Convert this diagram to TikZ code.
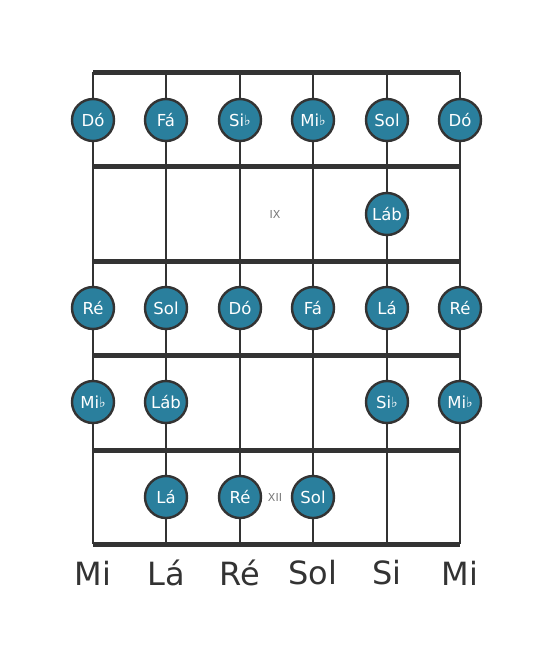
\documentclass[tikz,border=0pt]{standalone}
\usepackage{fontspec}
\setmainfont{DejaVu Sans}
\definecolor{notefill}{RGB}{42,127,157}
\definecolor{darkline}{RGB}{51,51,51}
\definecolor{markgray}{RGB}{120,120,120}
\tikzset{
  note/.style={circle, draw=darkline, line width=2.4pt, fill=notefill, text=white,
    minimum size=42pt, inner sep=0pt, font=\fontsize{16.5}{16.5}\selectfont},
  stringline/.style={darkline, line width=2.6pt},
  fretline/.style={darkline, line width=5pt},
  tuning/.style={text=darkline, font=\fontsize{32}{32}\selectfont},
  fretmark/.style={text=markgray, font=\fontsize{11}{11}\selectfont}
}
\newcommand{\fl}{\raisebox{0.1ex}{\fontsize{14}{14}\selectfont ♭}}
\begin{document}
\begin{tikzpicture}[x=1pt, y=-1pt]
    \useasboundingbox (0,0) rectangle (553,656);
    % Strings
    \foreach \s/\x in {1/93, 2/166, 3/240, 4/313, 5/387, 6/460} {
        \coordinate (top\s) at (\x,72);
        \coordinate (bot\s) at (\x,544);
        \draw[stringline] (top\s) -- (bot\s);
    }
    % Frets
    \foreach \f/\y in {0/72, 1/166, 2/261, 3/355, 4/450, 5/544} {
        \draw[fretline] (93,\y) -- (460,\y);
    }
    % Fret marks
    \node[fretmark] (ix) at (275,214) {IX};
    \node[fretmark] (xii) at (275,497) {XII};
    
    % Notes
    \node[note] (a1) at (93,120) {Dó};
    \node[note] (a2) at (166,120) {Fá};
    \node[note] (a3) at (240,120) {Si\fl};
    \node[note] (a4) at (313,120) {Mi\fl};
    \node[note] (a5) at (387,120) {Sol};
    \node[note] (a6) at (460,120) {Dó};
    \node[note] (b5) at (387,214) {Láb};
    \node[note] (c1) at (93,308) {Ré};
    \node[note] (c2) at (166,308) {Sol};
    \node[note] (c3) at (240,308) {Dó};
    \node[note] (c4) at (313,308) {Fá};
    \node[note] (c5) at (387,308) {Lá};
    \node[note] (c6) at (460,308) {Ré};
    \node[note] (d1) at (93,402) {Mi\fl};
    \node[note] (d2) at (166,402) {Láb};
    \node[note] (d5) at (387,402) {Si\fl};
    \node[note] (d6) at (460,402) {Mi\fl};
    \node[note] (e2) at (166,497) {Lá};
    \node[note] (e3) at (240,497) {Ré};
    \node[note] (e4) at (313,497) {Sol};
    
    % Open strings
    \node[tuning] (t1) at (93,573) {Mi};
    \node[tuning] (t2) at (166,573) {Lá};
    \node[tuning] (t3) at (240,573) {Ré};
    \node[tuning] (t4) at (313,573) {Sol};
    \node[tuning] (t5) at (387,573) {Si};
    \node[tuning] (t6) at (460,573) {Mi};
\end{tikzpicture}
\end{document}
